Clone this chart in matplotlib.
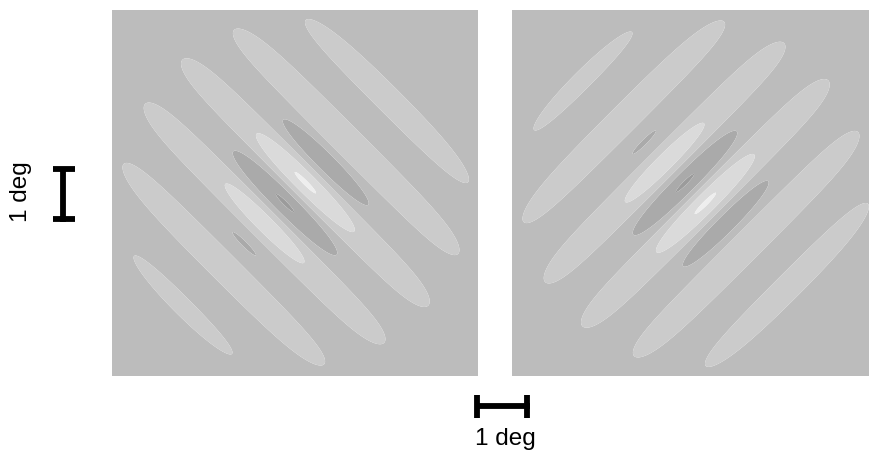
import numpy as np
import matplotlib
matplotlib.use("Agg")
import matplotlib.pyplot as plt

# Receptive field values (degrees of visual angle)
deg_px = 55.0                      # pixels per degree in the reference
panel_size_deg = 366 / deg_px      # each panel is 366 px square
wavelength_deg = 1.073             # spacing of the stripes
sigma_deg = 1.091                  # gaussian envelope width
crest_offset_deg = 0.273           # brightest stripe sits slightly off centre
panel_angles = [45, -45]           # across-stripe direction, left and right panel

# contour levels of the field and their grey shades
field_levels = [-2.0, -0.95, -0.463, 0.0146, 0.5, 0.94, 2.0]
level_colors = ["#9b9b9b", "#aaaaaa", "#bcbcbc", "#cbcbcb", "#dadada", "#eeeeee"]

scale_label = "1 deg"

W, H = 870, 454


def gabor_field(angle):
    half = panel_size_deg / 2
    x = np.linspace(-half, half, 700)
    X, Y = np.meshgrid(x, x)
    t = np.deg2rad(angle)
    u = X * np.cos(t) + Y * np.sin(t)
    env = np.exp(-(X**2 + Y**2) / (2 * sigma_deg**2))
    return x, env * np.cos(2 * np.pi * (u - crest_offset_deg) / wavelength_deg)


fig = plt.figure(figsize=(W / 100, H / 100), dpi=100)

panel_left = [112, 512]
for left_px, angle in zip(panel_left, panel_angles):
    ax = fig.add_axes([left_px / W, (H - 376) / H, 366 / W, 366 / H])
    x, z = gabor_field(angle)
    ax.contourf(x, x, z, levels=field_levels, colors=level_colors, antialiased=True)
    ax.set_xlim(x[0], x[-1])
    ax.set_ylim(x[0], x[-1])
    ax.axis("off")

# scale bars drawn in pixel coordinates on top of everything
ov = fig.add_axes([0, 0, 1, 1], zorder=5)
ov.set_xlim(0, W)
ov.set_ylim(H, 0)
ov.axis("off")
ov.patch.set_alpha(0)

lw = 4.2
# vertical bar
vx, vy0 = 63.5, 166.5
vy1 = vy0 + deg_px
ov.plot([vx, vx], [vy0, vy1], color="black", lw=lw, solid_capstyle="butt")
ov.plot([53, 75], [vy0 + 2.5, vy0 + 2.5], color="black", lw=lw, solid_capstyle="butt")
ov.plot([53, 75], [vy1 - 2.5, vy1 - 2.5], color="black", lw=lw, solid_capstyle="butt")
ov.text(21, 192, scale_label, rotation=90, ha="center", va="center",
        fontsize=17.5, family="Liberation Sans")

# horizontal bar
hy, hx0 = 406, 475
hx1 = hx0 + deg_px
ov.plot([hx0, hx1], [hy, hy], color="black", lw=lw, solid_capstyle="butt")
ov.plot([hx0 + 2.5, hx0 + 2.5], [395, 418], color="black", lw=lw, solid_capstyle="butt")
ov.plot([hx1 - 2.5, hx1 - 2.5], [395, 418], color="black", lw=lw, solid_capstyle="butt")
ov.text(505, 439, scale_label, ha="center", va="center",
        fontsize=17.5, family="Liberation Sans")

fig.savefig("out.png", dpi=100)
